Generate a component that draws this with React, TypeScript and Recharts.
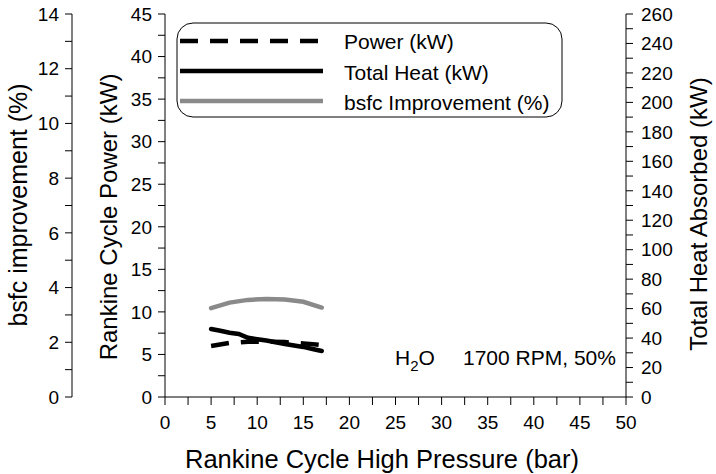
import React from 'react';
import { ComposedChart, Line, XAxis, YAxis } from 'recharts';

// ---- data ----
const pressureBar = [5, 7, 9, 11, 13, 15, 17];
const heatPressureBar = [5, 6, 7, 8, 9, 10, 11, 12, 13, 14, 15, 16, 17];
const powerKW = [6.0, 6.35, 6.5, 6.5, 6.45, 6.3, 6.1];
const heatKW = [46.2, 45.0, 43.6, 42.8, 40.2, 39.2, 38.3, 37.2, 36.0, 35.0, 34.0, 32.6, 31.2];
const bsfcPct = [3.25, 3.45, 3.55, 3.58, 3.56, 3.48, 3.27];

const xTicks = [0, 2.5, 5, 7.5, 10, 12.5, 15, 17.5, 20, 22.5, 25, 27.5, 30, 32.5, 35, 37.5, 40, 42.5, 45, 47.5, 50];
const bsfcTicks = [0, 1, 2, 3, 4, 5, 6, 7, 8, 9, 10, 11, 12, 13, 14];
const powerTicks = [0, 2.5, 5, 7.5, 10, 12.5, 15, 17.5, 20, 22.5, 25, 27.5, 30, 32.5, 35, 37.5, 40, 42.5, 45];
const heatTicks = [0, 10, 20, 30, 40, 50, 60, 70, 80, 90, 100, 110, 120, 130, 140, 150, 160, 170, 180, 190, 200, 210, 220, 230, 240, 250, 260];

const seriesNames = ['Power (kW)', 'Total Heat (kW)', 'bsfc Improvement (%)'];
const seriesColors = ['#000000', '#000000', '#8a8a8a'];
const seriesDash = ['18 12', undefined, undefined];

const powerData = pressureBar.map((p, i) => ({ p, v: powerKW[i] }));
const heatData = heatPressureBar.map((p, i) => ({ p, v: heatKW[i] }));
const bsfcData = pressureBar.map((p, i) => ({ p, v: bsfcPct[i] }));

const FONT = '"Liberation Sans", Arial, sans-serif';
const tickStyle = { fontSize: 19, fill: '#000', fontFamily: FONT };

const every = (n: number) => (v: number) => (Math.abs(v / n - Math.round(v / n)) < 1e-6 ? String(v) : '');

export default function App() {
  return (
    <div style={{ position: 'absolute', left: 0, top: 0, background: '#fff' }}>
      <ComposedChart
        width={716}
        height={474}
        margin={{ top: 14, right: 0, bottom: 0, left: 0 }}
        style={{ fontFamily: FONT }}
      >
        <XAxis
          xAxisId="x"
          dataKey="p"
          type="number"
          domain={[0, 50]}
          ticks={xTicks}
          interval={0}
          tickFormatter={every(5)}
          tickSize={8}
          tickMargin={11}
          height={77}
          tick={tickStyle}
          stroke="#000"
          allowDataOverflow
        />
        <XAxis
          xAxisId="top"
          orientation="top"
          type="number"
          domain={[0, 50]}
          tick={false}
          tickLine={false}
          height={0}
          stroke="#000"
        />
        <YAxis
          yAxisId="a_power"
          orientation="left"
          type="number"
          domain={[0, 45]}
          ticks={powerTicks}
          interval={0}
          tickFormatter={every(5)}
          width={93}
          tickSize={7}
          tickMargin={6}
          tick={tickStyle}
          stroke="#000"
        />
        <YAxis
          yAxisId="b_bsfc"
          orientation="left"
          type="number"
          domain={[0, 14]}
          ticks={bsfcTicks}
          interval={0}
          tickFormatter={every(2)}
          width={72}
          tickSize={7}
          tickMargin={6}
          tick={tickStyle}
          stroke="#000"
        />
        <YAxis
          yAxisId="heat"
          orientation="right"
          type="number"
          domain={[0, 260]}
          ticks={heatTicks}
          interval={0}
          tickFormatter={every(20)}
          width={90}
          tickSize={7}
          tickMargin={8}
          tick={tickStyle}
          stroke="#000"
        />
        <Line
          xAxisId="x"
          yAxisId="b_bsfc"
          data={bsfcData}
          dataKey="v"
          type="linear"
          stroke={seriesColors[2]}
          strokeWidth={4.5}
          strokeLinecap="round"
          dot={false}
          activeDot={false}
          isAnimationActive={false}
        />
        <Line
          xAxisId="x"
          yAxisId="heat"
          data={heatData}
          dataKey="v"
          type="linear"
          stroke={seriesColors[1]}
          strokeWidth={4.5}
          strokeLinecap="round"
          dot={false}
          activeDot={false}
          isAnimationActive={false}
        />
        <Line
          xAxisId="x"
          yAxisId="a_power"
          data={powerData}
          dataKey="v"
          type="linear"
          stroke={seriesColors[0]}
          strokeWidth={4.5}
          strokeDasharray={seriesDash[0]}
          dot={false}
          activeDot={false}
          isAnimationActive={false}
        />

        {/* axis titles */}
        <text x={27} y={205} transform="rotate(-90 27 205)" textAnchor="middle" fontSize={25} fontFamily={FONT} fill="#000">
          bsfc improvement (%)
        </text>
        <text x={117} y={217} transform="rotate(-90 117 217)" textAnchor="middle" fontSize={24} fontFamily={FONT} fill="#000">
          Rankine Cycle Power (kW)
        </text>
        <text x={707} y={214} transform="rotate(-90 707 214)" textAnchor="middle" fontSize={24} fontFamily={FONT} fill="#000">
          Total Heat Absorbed (kW)
        </text>
        <text x={382} y={468} textAnchor="middle" fontSize={25.5} fontFamily={FONT} fill="#000">
          Rankine Cycle High Pressure (bar)
        </text>

        {/* legend */}
        <g>
          <rect x={177} y={23} width={385} height={94} rx={16} ry={16} fill="#fff" stroke="#000" strokeWidth={1} />
          {seriesNames.map((name, i) => (
            <g key={name}>
              <line
                x1={180}
                x2={323}
                y1={41 + i * 30}
                y2={41 + i * 30}
                stroke={seriesColors[i]}
                strokeWidth={4.5}
                strokeDasharray={seriesDash[i]}
              />
              <text x={344} y={49 + i * 30.5} fontSize={21} fontFamily={FONT} fill="#000">
                {name}
              </text>
            </g>
          ))}
        </g>

        {/* annotation */}
        <text x={395} y={365} fontSize={21} fontFamily={FONT} fill="#000">
          H<tspan fontSize={15} dy={6}>2</tspan><tspan dy={-6}>O</tspan>
        </text>
        <text x={463} y={365} fontSize={21} fontFamily={FONT} fill="#000">
          1700 RPM, 50%
        </text>
      </ComposedChart>
    </div>
  );
}
